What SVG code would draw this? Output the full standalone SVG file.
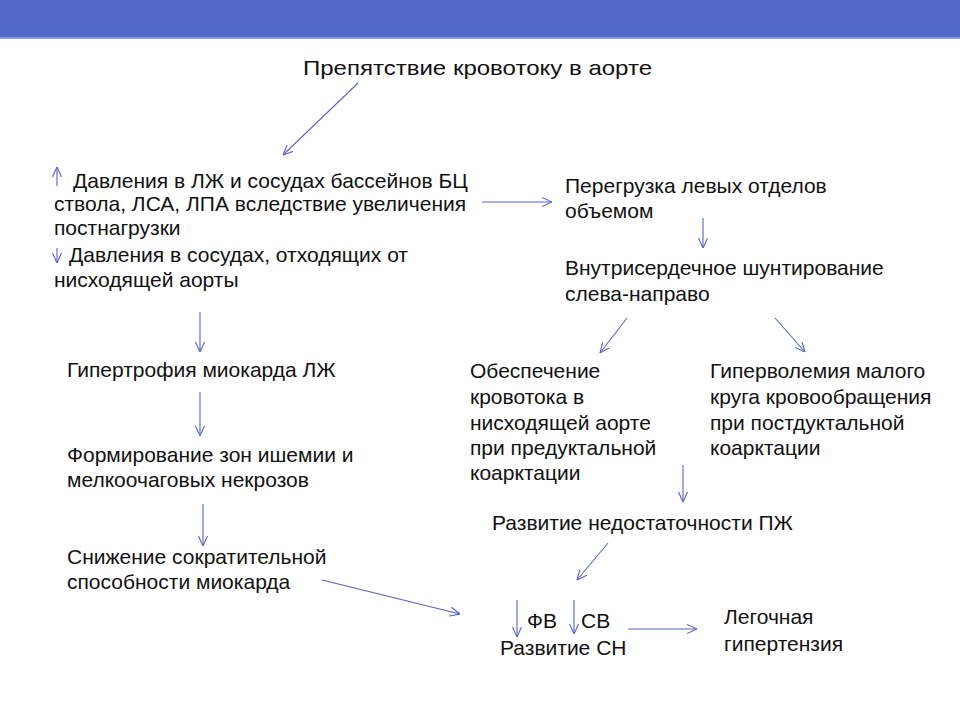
<svg xmlns="http://www.w3.org/2000/svg" width="960" height="720" viewBox="0 0 960 720">
<style>
.t{font-family:"Liberation Sans",Arial,sans-serif;font-size:21px;fill:#111}
.c line{stroke:#5565c0;stroke-width:1.1;fill:none}
</style>
<defs>
<marker id="a" viewBox="0 0 10 10" refX="10" refY="5" markerWidth="10" markerHeight="10" markerUnits="userSpaceOnUse" orient="auto">
<path d="M0,0.5 L10,5 L0,9.5" fill="none" stroke="#5565c0" stroke-width="1.1"/>
</marker>
</defs>
<rect x="0" y="0" width="960" height="37" fill="#5068c8"/>
<rect x="0" y="37" width="960" height="2" fill="#8a9ad8"/>
<g id="n-title"><text class="t" x="303" y="75" font-size="22" textLength="349" lengthAdjust="spacingAndGlyphs">Препятствие кровотоку в аорте</text></g>
<g id="n-pressure">
<text class="t" x="73" y="188">Давления в ЛЖ и сосудах бассейнов БЦ</text>
<text class="t" x="54" y="211">ствола, ЛСА, ЛПА вследствие увеличения</text>
<text class="t" x="54" y="235">постнагрузки</text>
<text class="t" x="69" y="262">Давления в сосудах, отходящих от</text>
<text class="t" x="54" y="287">нисходящей аорты</text>
</g>
<g id="n-overload">
<text class="t" x="565" y="193">Перегрузка левых отделов</text>
<text class="t" x="565" y="218">объемом</text>
</g>
<g id="n-shunt">
<text class="t" x="565" y="275">Внутрисердечное шунтирование</text>
<text class="t" x="565" y="301">слева-направо</text>
</g>
<g id="n-supply">
<text class="t" x="470" y="378">Обеспечение</text>
<text class="t" x="470" y="404">кровотока в</text>
<text class="t" x="470" y="430">нисходящей аорте</text>
<text class="t" x="470" y="455">при предуктальной</text>
<text class="t" x="470" y="480">коарктации</text>
</g>
<g id="n-hyper">
<text class="t" x="710" y="378">Гиперволемия малого</text>
<text class="t" x="710" y="404">круга кровообращения</text>
<text class="t" x="710" y="430">при постдуктальной</text>
<text class="t" x="710" y="455">коарктации</text>
</g>
<g id="n-rv"><text class="t" x="492" y="530">Развитие недостаточности ПЖ</text></g>
<g id="n-lvh"><text class="t" x="67" y="377">Гипертрофия миокарда ЛЖ</text></g>
<g id="n-isch">
<text class="t" x="67" y="462">Формирование зон ишемии и</text>
<text class="t" x="67" y="487">мелкоочаговых некрозов</text>
</g>
<g id="n-contr">
<text class="t" x="67" y="564">Снижение сократительной</text>
<text class="t" x="67" y="589">способности миокарда</text>
</g>
<g id="n-hf">
<text class="t" x="527" y="628">ФВ</text>
<text class="t" x="581" y="628">СВ</text>
<text class="t" x="500" y="655">Развитие СН</text>
</g>
<g id="n-ph">
<text class="t" x="724" y="624">Легочная</text>
<text class="t" x="724" y="651">гипертензия</text>
</g>
<g class="c" id="connectors">
<line x1="358" y1="83" x2="283" y2="155" marker-end="url(#a)"/>
<line x1="57" y1="186" x2="57" y2="167" marker-end="url(#a)"/>
<line x1="57" y1="248" x2="57" y2="263" marker-end="url(#a)"/>
<line x1="482" y1="202" x2="552" y2="202" marker-end="url(#a)"/>
<line x1="703" y1="218" x2="703" y2="248" marker-end="url(#a)"/>
<line x1="627" y1="318" x2="600" y2="353" marker-end="url(#a)"/>
<line x1="775" y1="318" x2="805" y2="352" marker-end="url(#a)"/>
<line x1="683" y1="465" x2="683" y2="502" marker-end="url(#a)"/>
<line x1="608" y1="543" x2="577" y2="580" marker-end="url(#a)"/>
<line x1="200" y1="312" x2="200" y2="352" marker-end="url(#a)"/>
<line x1="200" y1="392" x2="200" y2="436" marker-end="url(#a)"/>
<line x1="203" y1="504" x2="203" y2="546" marker-end="url(#a)"/>
<line x1="322" y1="580" x2="460" y2="614" marker-end="url(#a)"/>
<line x1="517" y1="600" x2="517" y2="637" marker-end="url(#a)"/>
<line x1="574" y1="600" x2="574" y2="634" marker-end="url(#a)"/>
<line x1="628" y1="629" x2="697" y2="629" marker-end="url(#a)"/>
</g>
</svg>
